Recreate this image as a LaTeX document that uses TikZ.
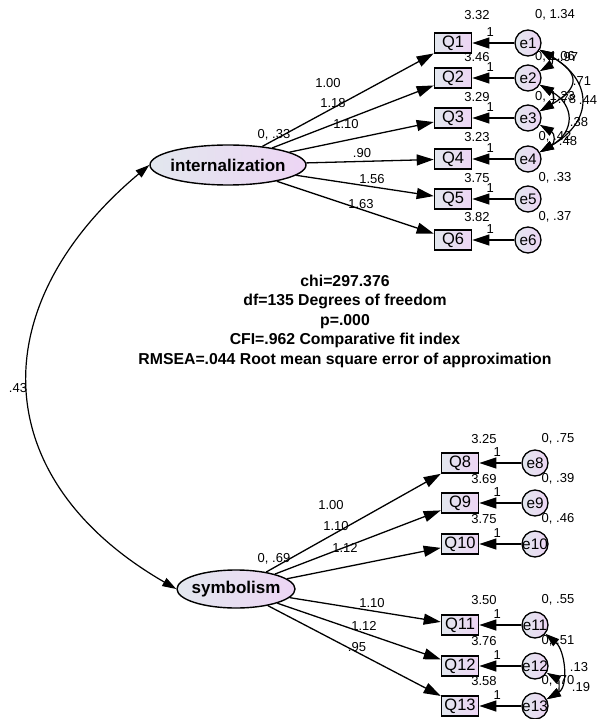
\documentclass[tikz,border=0pt]{standalone}
\usepackage{fontspec}
\setmainfont{Liberation Sans}
\usetikzlibrary{shapes.geometric,arrows.meta}

\definecolor{lftc}{RGB}{226,231,238}
\definecolor{rgtc}{RGB}{237,213,244}

\tikzset{
    obs/.style={draw,line width=1.6pt,left color=lftc,right color=rgtc,
        minimum width=37pt,minimum height=20pt,inner sep=1pt,
        font=\fontsize{16.5}{16.5}\selectfont},
    err/.style={draw,circle,line width=1.3pt,left color=lftc,right color=rgtc,
        minimum size=26pt,inner sep=-3pt,font=\fontsize{15.3}{15.3}\selectfont},
    lat/.style={draw,ellipse,line width=1.4pt,left color=lftc,right color=rgtc,
        inner xsep=-3pt,inner ysep=0pt,font=\bfseries\fontsize{17}{17}\selectfont},
    lbl/.style={inner sep=0pt,font=\fontsize{13}{13}\selectfont},
    load/.style={line width=1.3pt,-{Triangle[length=17pt,width=11pt]}},
    cov/.style={line width=1.2pt,{Triangle[length=14pt,width=9pt]}-{Triangle[length=14pt,width=9pt]}},
}

\begin{document}
\begin{tikzpicture}[x=1pt,y=1pt]
    \useasboundingbox (0,0) rectangle (598,-719);
    %
    \node[lat,minimum width=156pt,minimum height=40pt] (int) at (228,-165) {internalization};
    \node[lat,minimum width=118pt,minimum height=38pt] (sym) at (236,-589) {symbolism};
    %
    \foreach \n/\y in {1/43,2/78,3/118,4/159,5/199,6/240}{
        \node[obs] (Q\n) at (453,-\y) {Q\n};
        \node[err] (e\n) at (528,-\y) {e\n};
    }
    \foreach \n/\y in {8/463,9/503,10/544,11/625,12/666,13/706}{
        \node[obs] (Q\n) at (460,-\y) {Q\n};
        \node[err] (e\n) at (535,-\y) {e\n};
    }
    %
    \foreach \n in {1,...,6} \draw[load] (int) -- (Q\n);
    \foreach \n in {8,...,13} \draw[load] (sym) -- (Q\n);
    \foreach \n in {1,...,6,8,9,...,13}{
        \draw[load] (e\n) -- (Q\n);
        \node[lbl] at ([xshift=18pt,yshift=11pt]Q\n.east) {1};
    }
    %
    \draw[cov] (int.west) to[out=-140,in=150,looseness=1.32] (sym.west);
    \node[lbl] at (18,-388) {.43};
    %
    \draw[cov] (e1) to[out=-30,in=30,looseness=1.8] (e2);
    \draw[cov] (e1) to[out=-30,in=30,looseness=1.95] (e3);
    \draw[cov] (e1) to[out=-30,in=30,looseness=1.55] (e4);
    \draw[cov] (e2) to[out=-30,in=30,looseness=1.65] (e3);
    \draw[cov] (e2) to[out=-30,in=30,looseness=1.55] (e4);
    \draw[cov] (e3) to[out=-30,in=30,looseness=1.65] (e4);
    \draw[cov] (e11) to[out=-40,in=30,looseness=1] (e13);
    \draw[cov] (e12) to[out=-30,in=30,looseness=1.4] (e13);
    %
    \foreach \n/\ly/\m/\v in {1/15/3.32/{0, 1.34},2/57/3.46/{0, 1.06},3/97/3.29/{0, 1.23},
        4/137/3.23/{0, .42},5/178/3.75/{0, .33},6/217/3.82/{0, .37}}{
        \node[lbl] at (477,-\ly) {\m};
        \node[lbl] at (555,-\ly) {\v};
    }
    \foreach \n/\ly/\m/\v in {8/439/3.25/{0, .75},9/479/3.69/{0, .39},10/519/3.75/{0, .46},
        11/600/3.50/{0, .55},12/641/3.76/{0, .51},13/681/3.58/{0, .70}}{
        \node[lbl] at (484,-\ly) {\m};
        \node[lbl] at (558,-\ly) {\v};
    }
    %
    \foreach \x/\y/\t in {569/57/.97,582/81/.71,588/100/.44,567/99/.78,579/122/.38,568/141/.48,
        579/667/.13,581/687/.19}
        \node[lbl] at (\x,-\y) {\t};
    %
    \foreach \x/\y/\t in {328/83/1.00,333/103/1.18,346/124/1.10,362/153/.90,372/179/1.56,361/204/1.63,
        331/505/1.00,336/526/1.10,345/548/1.12,372/603/1.10,364/626/1.12,357/647/.95,
        274/135/{0, .33},274/559/{0, .69}}
        \node[lbl] at (\x,-\y) {\t};
    %
    \node[align=center,font=\bfseries\fontsize{15.8}{19.5}\selectfont] (fit) at (345,-321)
        {chi=297.376\\df=135 Degrees of freedom\\p=.000\\CFI=.962 Comparative fit index\\
        RMSEA=.044 Root mean square error of approximation};
\end{tikzpicture}
\end{document}
